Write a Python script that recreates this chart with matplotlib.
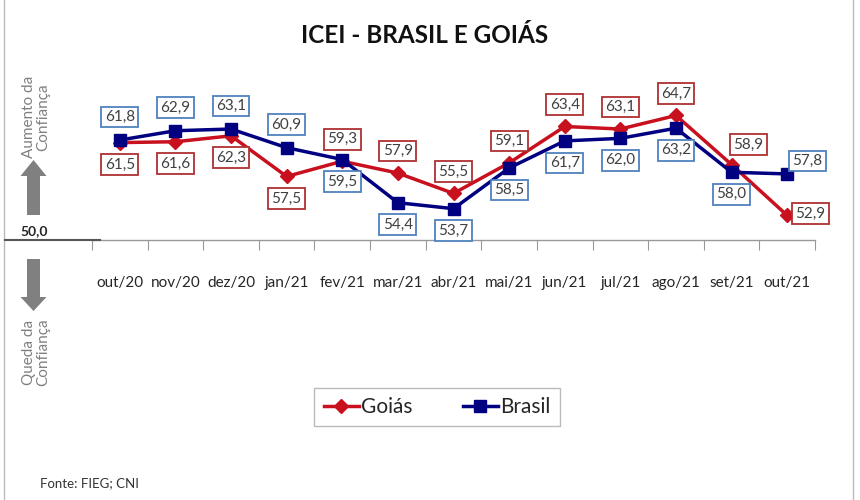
import matplotlib
matplotlib.use("Agg")
import matplotlib.pyplot as plt
from matplotlib.lines import Line2D
from matplotlib.patches import FancyArrow

categories = ["out/20", "nov/20", "dez/20", "jan/21", "fev/21", "mar/21", "abr/21",
              "mai/21", "jun/21", "jul/21", "ago/21", "set/21", "out/21"]
goias = [61.5, 61.6, 62.3, 57.5, 59.3, 57.9, 55.5, 59.1, 63.4, 63.1, 64.7, 58.9, 52.9]
brasil = [61.8, 62.9, 63.1, 60.9, 59.5, 54.4, 53.7, 58.5, 61.7, 62.0, 63.2, 58.0, 57.8]

# label offsets (pixels): dx, dy (positive dy = up)
goias_off = [(0, -22), (0, -22), (0, -22), (0, -22), (0, 22), (0, 22), (0, 22),
             (0, 22), (0, 22), (0, 22), (0, 22), (17, 20), (23, 2)]
brasil_off = [(0, 23), (0, 23), (0, 23), (0, 23), (0, -22), (0, -22), (0, -22),
              (0, -22), (0, -22), (0, -22), (0, -22), (0, -22), (20, 13)]

plt.rcParams['font.family'] = ['Lato', 'DejaVu Sans']

RED = "#C8101E"
NAVY = "#000080"
RED_BOX = "#B03030"
BLUE_BOX = "#4F81BD"
TXT = "#404040"

fig = plt.figure(figsize=(8.6, 5.0), dpi=100)
W, H = 860.0, 500.0
ax = fig.add_axes([92 / W, 1 - 240 / H, 723 / W, 144 / H])
ax.set_xlim(-0.5, len(categories) - 0.5)
ax.set_ylim(50, 67)

x = list(range(len(categories)))
ax.plot(x, goias, color=RED, lw=2.5, marker="D", ms=7, mfc=RED, mec=RED, label="Goiás", zorder=3)
ax.plot(x, brasil, color=NAVY, lw=2.5, marker="s", ms=9, mfc=NAVY, mec=NAVY, label="Brasil", zorder=4)

for i in x:
    dx, dy = goias_off[i]
    ax.annotate(f"{goias[i]:.1f}".replace(".", ","), (i, goias[i]),
                xytext=(dx * 0.72, dy * 0.72), textcoords="offset points",
                ha="center", va="center", fontsize=11, color=TXT, zorder=6,
                bbox=dict(boxstyle="square,pad=0.22", fc="white", ec=RED_BOX, lw=1.3))
    dx, dy = brasil_off[i]
    ax.annotate(f"{brasil[i]:.1f}".replace(".", ","), (i, brasil[i]),
                xytext=(dx * 0.72, dy * 0.72), textcoords="offset points",
                ha="center", va="center", fontsize=11, color=TXT, zorder=6,
                bbox=dict(boxstyle="square,pad=0.22", fc="white", ec=BLUE_BOX, lw=1.3))

for s in ["top", "right", "left"]:
    ax.spines[s].set_visible(False)
ax.spines["bottom"].set_color("#999999")
ax.spines["bottom"].set_linewidth(1.0)
ax.set_yticks([])
ax.set_xticks([i - 0.5 for i in range(len(categories) + 1)])
ax.set_xticklabels([])
ax.tick_params(axis="x", which="major", direction="out", length=7, color="#999999")
ax.set_xticks(x, minor=True)
ax.set_xticklabels(categories, minor=True, fontsize=11, color="#262626")
ax.tick_params(axis="x", which="minor", length=0, pad=26)

# title
fig.text(425 / W, 1 - 35 / H, "ICEI - BRASIL E GOIÁS", ha="center", va="center",
         fontsize=17.5, fontweight="bold", color="#111111")

# panel borders
fig.add_artist(Line2D([4 / W, 4 / W], [0, 1], color="#BBBBBB", lw=1.0))
fig.add_artist(Line2D([853 / W, 853 / W], [0, 1], color="#BBBBBB", lw=1.0))
# baseline at 50
fig.add_artist(Line2D([5 / W, 100 / W], [1 - 240 / H, 1 - 240 / H], color="#555555", lw=1.5))
fig.text(20 / W, 1 - 231 / H, "50,0", ha="left", va="center", fontsize=10,
         fontweight="bold", color="#262626")

# arrows
GRAY = "#808080"
fig.add_artist(FancyArrow(33.5 / W, 1 - 215 / H, 0, 55 / H, width=13 / W, head_width=26 / W,
                          head_length=16 / H, length_includes_head=True,
                          transform=fig.transFigure, color=GRAY, lw=0))
fig.add_artist(FancyArrow(33.5 / W, 1 - 259 / H, 0, -52 / H, width=13 / W, head_width=26 / W,
                          head_length=14 / H, length_includes_head=True,
                          transform=fig.transFigure, color=GRAY, lw=0))
fig.text(36 / W, 1 - 117 / H, "Aumento da\nConfiança", rotation=90, ha="center", va="center",
         fontsize=11, color=GRAY, linespacing=1.0, multialignment="center")
fig.text(36 / W, 1 - 352 / H, "Queda da\nConfiança", rotation=90, ha="center", va="center",
         fontsize=11, color=GRAY, linespacing=1.0, multialignment="center")

# legend
leg = fig.legend(loc="center", bbox_to_anchor=(437 / W, 1 - 407 / H), ncol=2, fontsize=15,
                 frameon=True, fancybox=False, edgecolor="#AAAAAA", handlelength=1.7,
                 handletextpad=0.1, columnspacing=2.4, borderpad=0.45, borderaxespad=0)
leg.get_frame().set_linewidth(1.0)
for t in leg.get_texts():
    t.set_color("#262626")

fig.text(40 / W, 1 - 483 / H, "Fonte: FIEG; CNI", ha="left", va="center", fontsize=9.5,
         color="#333333")

fig.savefig("out.png", dpi=100)
